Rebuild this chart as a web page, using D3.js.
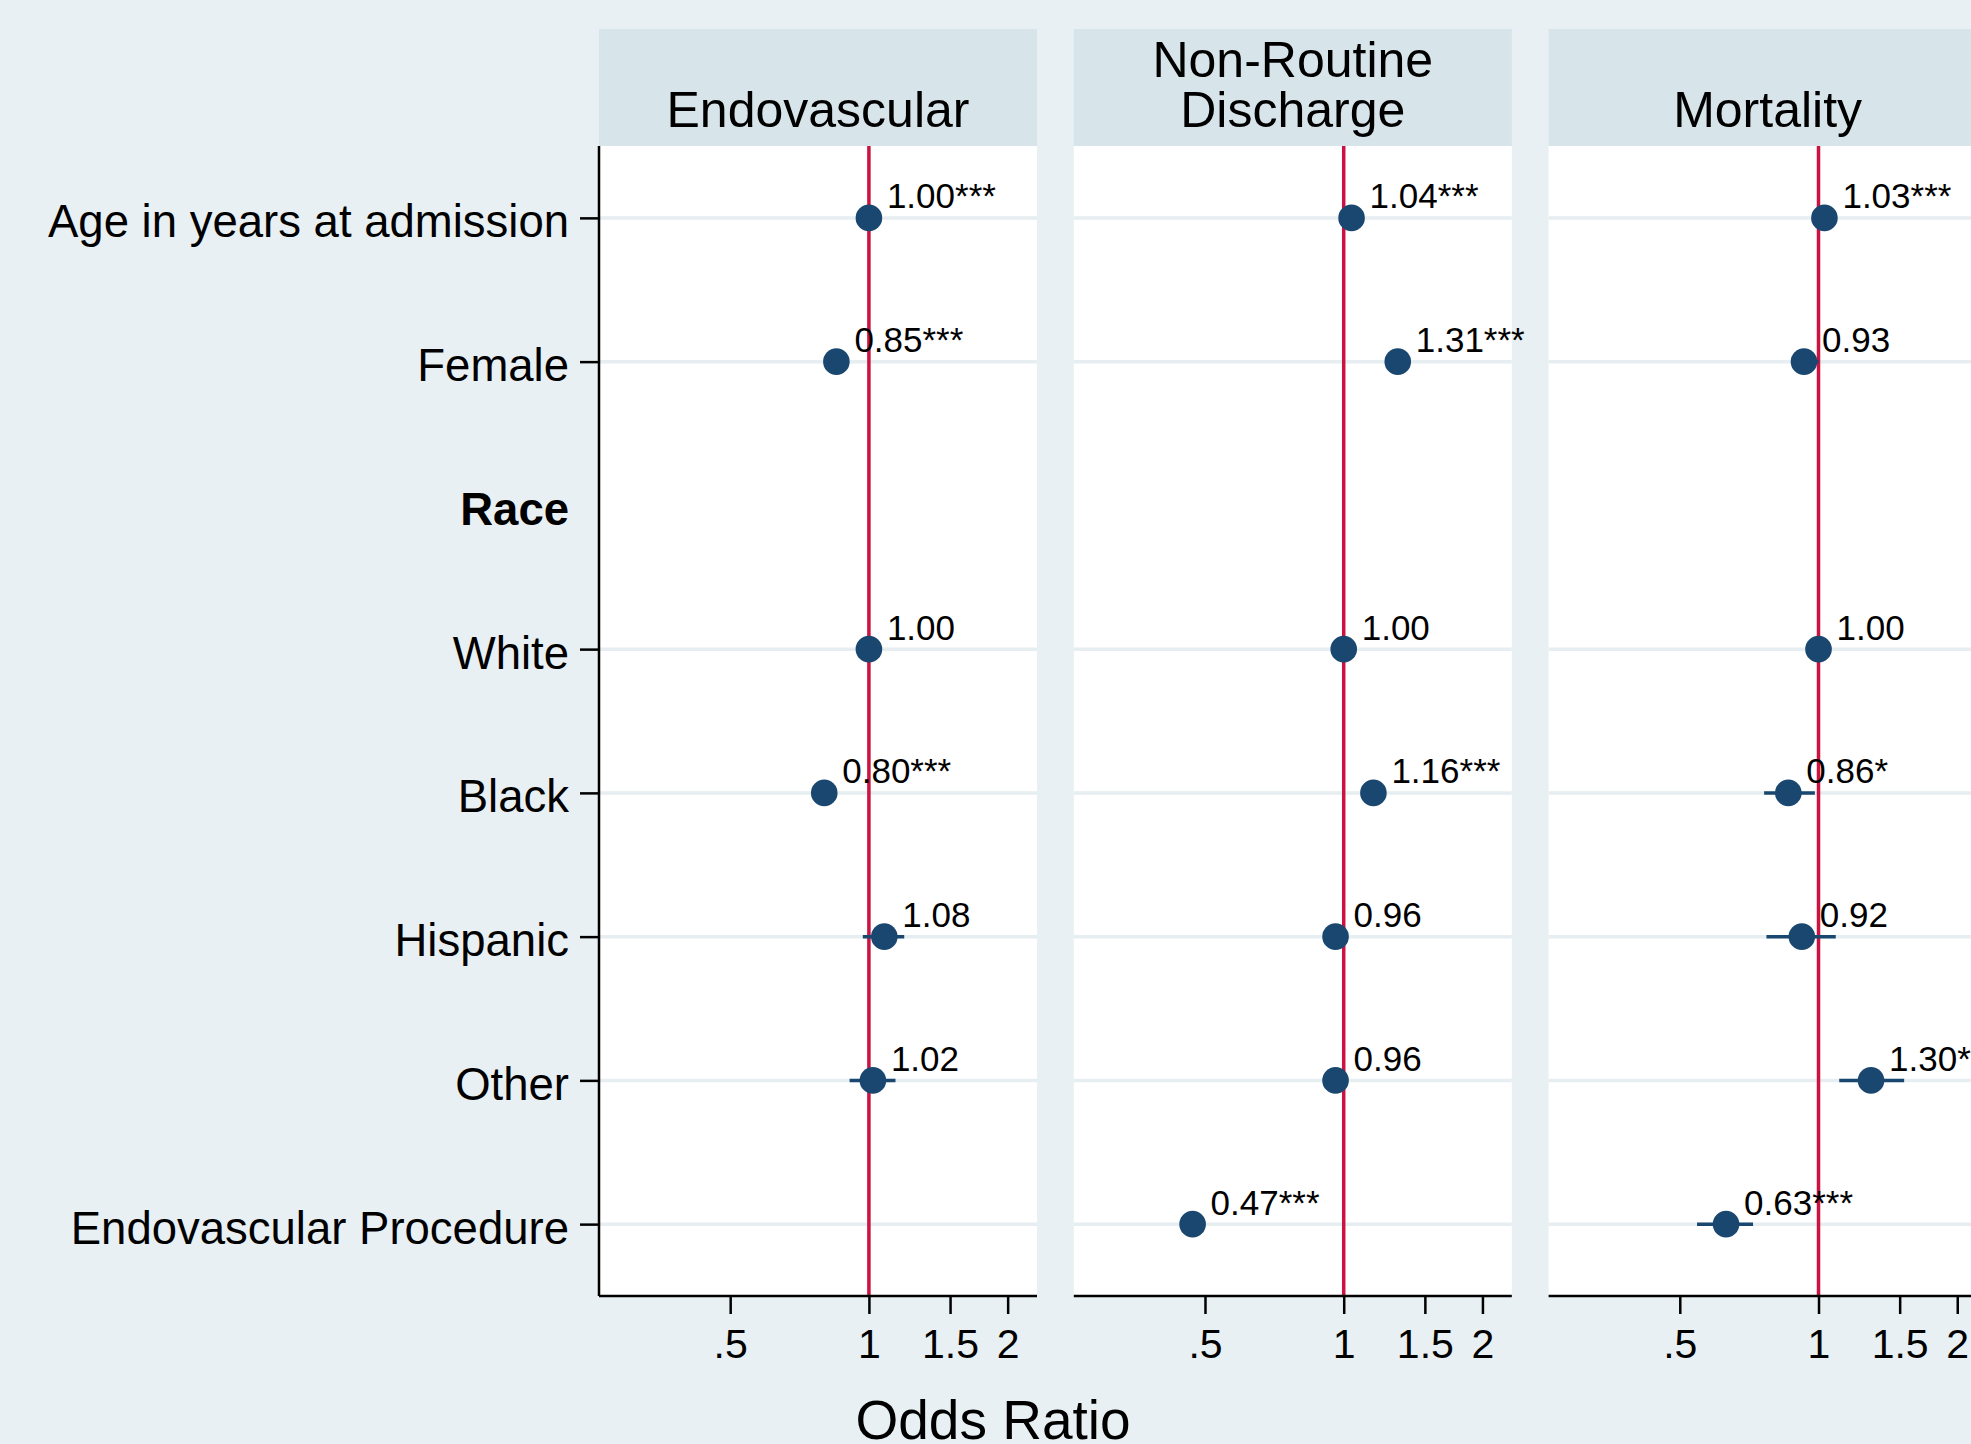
<!DOCTYPE html>
<html>
<head>
<meta charset="utf-8">
<script src="https://cdn.jsdelivr.net/npm/d3@7/dist/d3.min.js"></script>
<style>
  html, body { margin: 0; padding: 0; background: #e8f0f3; }
  svg { display: block; }
  text { font-family: "Liberation Sans", Arial, Helvetica, sans-serif; fill: #000; }
</style>
</head>
<body>
<svg id="chart" width="1971" height="1444"></svg>
<script>
// ---------------- data ----------------
const categories = ["Age in years at admission", "Female", "Race", "White", "Black", "Hispanic", "Other", "Endovascular Procedure"];
const headingCategories = ["Race"];

const outcomeTitles = [["Endovascular"], ["Non-Routine", "Discharge"], ["Mortality"]];

const endoOR    = [1.00, 0.85, null, 1.00, 0.80, 1.08, 1.02, null];
const endoLo    = [0.998, 0.82, null, 1.00, 0.77, 0.97, 0.908, null];
const endoHi    = [1.002, 0.88, null, 1.00, 0.83, 1.193, 1.142, null];
const endoLabel = ["1.00***", "0.85***", null, "1.00", "0.80***", "1.08", "1.02", null];

const nrdOR     = [1.04, 1.31, null, 1.00, 1.16, 0.96, 0.96, 0.47];
const nrdLo     = [1.035, 1.27, null, 1.00, 1.11, 0.92, 0.91, 0.45];
const nrdHi     = [1.045, 1.35, null, 1.00, 1.21, 1.00, 1.01, 0.49];
const nrdLabel  = ["1.04***", "1.31***", null, "1.00", "1.16***", "0.96", "0.96", "0.47***"];

const mortOR    = [1.03, 0.93, null, 1.00, 0.86, 0.92, 1.30, 0.63];
const mortLo    = [1.02, 0.875, null, 1.00, 0.762, 0.771, 1.109, 0.545];
const mortHi    = [1.04, 1.00, null, 1.00, 0.982, 1.09, 1.534, 0.721];
const mortLabel = ["1.03***", "0.93", null, "1.00", "0.86*", "0.92", "1.30**", "0.63***"];

const xTickValues = [0.5, 1, 1.5, 2];
const xTickLabels = [".5", "1", "1.5", "2"];
const xTitle = "Odds Ratio";
const refValue = 1;

// ---------------- layout ----------------
const svg = d3.select("#chart");
const W = 1971, H = 1444;
const C = {
  bg: "#e8f0f3", strip: "#d7e4ea", grid: "#e6eef1", plot: "#ffffff",
  dot: "#1a476f", ref: "#cc1240", axis: "#000"
};
svg.append("rect").attr("width", W).attr("height", H).attr("fill", C.bg);

const plotTop = 146, plotBottom = 1296;
const stripTop = 29;
const panelW = 438, panelStep = 474.8, firstLeft = 599;

const panels = [
  { or: endoOR, lo: endoLo, hi: endoHi, label: endoLabel },
  { or: nrdOR,  lo: nrdLo,  hi: nrdHi,  label: nrdLabel },
  { or: mortOR, lo: mortLo, hi: mortHi, label: mortLabel }
];

const y = d3.scalePoint().domain(categories).range([plotTop, plotBottom]).padding(0.5);

panels.forEach((p, i) => {
  const left = firstLeft + i * panelStep;
  const x = d3.scaleLog().domain([0.2596, 2.316]).range([left, left + panelW]);
  const g = svg.append("g");

  // strip header
  g.append("rect").attr("x", left).attr("y", stripTop).attr("width", panelW)
    .attr("height", plotTop - stripTop).attr("fill", C.strip);
  const lines = outcomeTitles[i];
  lines.forEach((ln, k) => {
    g.append("text").attr("x", left + panelW / 2)
      .attr("y", 126.7 - (lines.length - 1 - k) * 50)
      .attr("text-anchor", "middle").attr("font-size", 50).text(ln);
  });

  // plot region
  g.append("rect").attr("x", left).attr("y", plotTop).attr("width", panelW)
    .attr("height", plotBottom - plotTop).attr("fill", C.plot);

  // gridlines (not for headings)
  const rowCats = categories.filter(c => !headingCategories.includes(c));
  g.selectAll(".grid").data(rowCats).join("line")
    .attr("x1", left).attr("x2", left + panelW)
    .attr("y1", d => y(d)).attr("y2", d => y(d))
    .attr("stroke", C.grid).attr("stroke-width", 3.5);

  // reference line
  g.append("line").attr("x1", x(refValue)).attr("x2", x(refValue))
    .attr("y1", plotTop).attr("y2", plotBottom)
    .attr("stroke", C.ref).attr("stroke-width", 3.5);

  const rows = categories.map((c, j) => ({ c, or: p.or[j], lo: p.lo[j], hi: p.hi[j], label: p.label[j] }))
    .filter(d => d.or != null);

  // CIs
  g.selectAll(".ci").data(rows).join("line")
    .attr("x1", d => x(d.lo)).attr("x2", d => x(d.hi))
    .attr("y1", d => y(d.c)).attr("y2", d => y(d.c))
    .attr("stroke", C.dot).attr("stroke-width", 3.5);

  // points
  g.selectAll(".pt").data(rows).join("circle")
    .attr("cx", d => x(d.or)).attr("cy", d => y(d.c)).attr("r", 13.3)
    .attr("fill", C.dot);

  // value labels
  g.selectAll(".lab").data(rows).join("text")
    .attr("x", d => x(d.or) + 18).attr("y", d => y(d.c) - 9.5)
    .attr("font-size", 35).text(d => d.label);

  // x axis
  const xAxis = d3.axisBottom(x).tickValues(xTickValues)
    .tickFormat((d, k) => xTickLabels[k]).tickSize(18).tickPadding(15);
  const ax = g.append("g").attr("transform", `translate(0,${plotBottom})`).call(xAxis);
  ax.select(".domain").attr("d", `M${left},0H${left + panelW}`).attr("stroke", C.axis).attr("stroke-width", 2.5);
  ax.selectAll(".tick line").attr("stroke", C.axis).attr("stroke-width", 2.5);
  ax.selectAll(".tick text").attr("font-size", 41).attr("fill", "#000")
    .attr("font-family", "Liberation Sans, Arial, sans-serif");

  if (i === 0) {
    // y axis
    const yAxis = d3.axisLeft(y).tickSize(0).tickFormat("");
    const ay = g.append("g").attr("transform", `translate(${left},0)`).call(yAxis);
    ay.select(".domain").attr("d", `M0,${plotTop}V${plotBottom}`).attr("stroke", C.axis).attr("stroke-width", 2.5);
    ay.selectAll(".tick").each(function(d) {
      const t = d3.select(this);
      if (!headingCategories.includes(d)) {
        t.append("line").attr("x1", -19).attr("x2", 0).attr("stroke", C.axis).attr("stroke-width", 2.5);
      }
      t.select("text").remove();
      t.append("text").attr("x", -30).attr("y", 19)
        .attr("text-anchor", "end").attr("font-size", 45.5)
        .attr("font-weight", headingCategories.includes(d) ? "bold" : "normal")
        .attr("fill", "#000")
        .text(d);
    });
  }
});

// x title
svg.append("text").attr("x", 993).attr("y", 1439).attr("text-anchor", "middle")
  .attr("font-size", 55).text(xTitle);
</script>
</body>
</html>
